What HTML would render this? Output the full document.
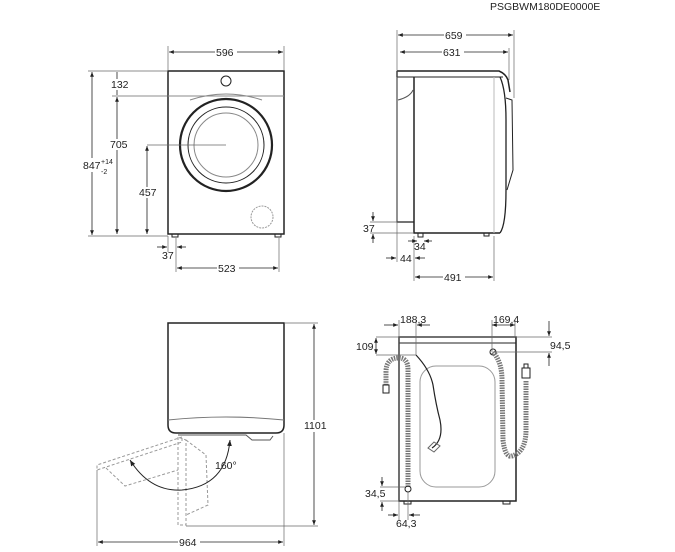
<!DOCTYPE html>
<html><head><meta charset="utf-8"><style>
html,body{margin:0;padding:0;background:#fff;width:675px;height:552px;overflow:hidden}
svg{display:block}
text{font-family:"Liberation Sans",sans-serif;font-size:10.5px;fill:#222}
</style></head><body>
<svg width="675" height="552" viewBox="0 0 675 552" xmlns="http://www.w3.org/2000/svg">
<defs>
<marker id="a" viewBox="0 0 10 10" refX="10" refY="5" markerWidth="6" markerHeight="6" orient="auto-start-reverse"><path d="M0,1 L10,5 L0,9 z" fill="#222"/></marker>
</defs>
<text x="490" y="10">PSGBWM180DE0000E</text>

<!-- FRONT VIEW -->
<g stroke="#222" fill="none">
<rect x="168" y="71" width="116" height="163" stroke-width="1.5"/>
<line x1="168" y1="96" x2="284" y2="96" stroke="#888"/>
<circle cx="226" cy="81" r="5"/>
<path d="M190,100 Q226,88 262,100" stroke="#888"/>
<circle cx="226" cy="145" r="46" stroke-width="2.2"/>
<circle cx="226" cy="145" r="38"/>
<circle cx="226" cy="145" r="32" stroke="#888"/>
<circle cx="262" cy="217" r="11" stroke="#999" stroke-dasharray="2,1"/>
<rect x="172" y="234" width="6" height="3"/><rect x="275" y="234" width="6" height="3"/>
<g stroke="#666" stroke-width="0.7">
<line x1="168" y1="46" x2="168" y2="70"/><line x1="284" y1="46" x2="284" y2="70"/>
<line x1="88" y1="71" x2="168" y2="71"/><line x1="112" y1="96" x2="168" y2="96"/>
<line x1="88" y1="236" x2="168" y2="236"/><line x1="147" y1="145" x2="226" y2="145"/>
<line x1="176" y1="238" x2="176" y2="272"/><line x1="279" y1="238" x2="279" y2="272"/>
<line x1="168" y1="236" x2="168" y2="252"/>
</g>
<g stroke-width="0.8" marker-start="url(#a)" marker-end="url(#a)">
<line x1="169" y1="52" x2="283" y2="52"/>
<line x1="92" y1="72" x2="92" y2="235"/>
<line x1="117" y1="97" x2="117" y2="234"/>
<line x1="147" y1="146" x2="147" y2="234"/>
<line x1="177" y1="268" x2="278" y2="268"/>
</g>
<line x1="117" y1="72" x2="117" y2="95" stroke-width="0.8"/>
<line x1="157" y1="247" x2="167" y2="247" marker-end="url(#a)" stroke-width="0.8"/>
<line x1="186" y1="247" x2="177" y2="247" marker-end="url(#a)" stroke-width="0.8"/>
</g>
<rect x="215" y="46" width="22" height="12" fill="#fff"/><text x="216" y="56">596</text>
<rect x="110" y="79" width="20" height="11" fill="#fff"/><text x="111" y="88">132</text>
<rect x="108" y="139" width="20" height="11" fill="#fff"/><text x="110" y="148">705</text>
<rect x="138" y="187" width="20" height="11" fill="#fff"/><text x="139" y="196">457</text>
<rect x="82" y="158" width="26" height="14" fill="#fff"/><text x="83" y="169">847</text>
<text x="101" y="164" style="font-size:7px">+14</text><text x="101" y="174" style="font-size:7px">-2</text>
<text x="162" y="259">37</text>
<rect x="217" y="262" width="22" height="12" fill="#fff"/><text x="218" y="272">523</text>

<!-- SIDE VIEW -->
<g stroke="#222" fill="none">
<path d="M397,71 L499,71 Q506,74 508,80 L510,92" stroke-width="1.5"/>
<line x1="397" y1="71" x2="397" y2="77" stroke-width="1.5"/>
<line x1="397" y1="77" x2="503" y2="77"/>
<path d="M414,77 L414,233 L500,233" stroke-width="1.5"/>
<path d="M397,77 L397,222 L414,222" stroke-width="1.2"/>
<path d="M398,100 Q410,97 413,90" stroke="#555"/>
<path d="M500,77 Q506,90 506,120 L506,190 Q506,225 500,233" stroke-width="1.3"/>
<path d="M506,98 L512,100 L513,170 L507,190" />
<line x1="494" y1="77" x2="494" y2="233" stroke="#bbb"/>
<rect x="418" y="233" width="5" height="4"/><rect x="484" y="233" width="5" height="3"/>
<g stroke="#666" stroke-width="0.7">
<line x1="397" y1="30" x2="397" y2="262"/><line x1="514" y1="30" x2="514" y2="98"/>
<line x1="509" y1="48" x2="509" y2="80"/>
<line x1="414" y1="236" x2="414" y2="281"/><line x1="494" y1="236" x2="494" y2="281"/>
<line x1="370" y1="222" x2="397" y2="222"/><line x1="370" y1="233" x2="414" y2="233"/>
</g>
<g stroke-width="0.8" marker-start="url(#a)" marker-end="url(#a)">
<line x1="398" y1="35" x2="513" y2="35"/>
<line x1="400" y1="52" x2="508" y2="52"/>
<line x1="415" y1="277" x2="493" y2="277"/>
</g>
<g stroke-width="0.8" marker-end="url(#a)">
<line x1="373" y1="212" x2="373" y2="221"/><line x1="373" y1="243" x2="373" y2="234"/>
<line x1="386" y1="258" x2="396" y2="258"/><line x1="425" y1="258" x2="415" y2="258"/>
<line x1="408" y1="241" x2="417" y2="241"/><line x1="432" y1="241" x2="424" y2="241"/>
</g>
</g>
<rect x="444" y="29" width="22" height="12" fill="#fff"/><text x="445" y="39">659</text>
<rect x="442" y="46" width="22" height="12" fill="#fff"/><text x="443" y="56">631</text>
<text x="363" y="232">37</text>
<text x="414" y="250">34</text>
<text x="400" y="262">44</text>
<rect x="443" y="271" width="22" height="12" fill="#fff"/><text x="444" y="281">491</text>

<!-- TOP VIEW with door -->
<g stroke="#222" fill="none">
<path d="M168,323 L284,323 L284,425 Q284,433 276,433 L176,433 Q168,433 168,425 Z" stroke-width="1.5"/>
<path d="M168,420 Q226,414 284,420" stroke="#777"/>
<path d="M178,435 L246,435 L252,440 L270,440 L273,436" stroke="#555"/>
<g stroke="#999" stroke-dasharray="3,2">
<path d="M182,437 L97,465 L97,470 L182,442 Z"/>
<path d="M106,468 L125,486 L178,470"/>
<path d="M178,437 L178,525 L186,525 L186,440 Z"/>
<path d="M186,440 L206,455 L208,505 L186,515"/>
</g>
<path d="M130,460 Q150,492 182,490 Q226,486 230,440" stroke-width="1" marker-start="url(#a)" marker-end="url(#a)"/>
<g stroke="#666" stroke-width="0.7">
<line x1="284" y1="323" x2="318" y2="323"/><line x1="186" y1="526" x2="318" y2="526"/>
<line x1="97" y1="470" x2="97" y2="546"/><line x1="284" y1="433" x2="284" y2="546"/>
</g>
<g stroke-width="0.8" marker-start="url(#a)" marker-end="url(#a)">
<line x1="314" y1="324" x2="314" y2="525"/>
<line x1="98" y1="542" x2="283" y2="542"/>
</g>
</g>
<rect x="303" y="420" width="24" height="12" fill="#fff"/><text x="304" y="429">1101</text>
<text x="215" y="469">160°</text>
<rect x="178" y="536" width="22" height="12" fill="#fff"/><text x="179" y="546">964</text>

<!-- BACK VIEW -->
<g stroke="#222" fill="none">
<rect x="399" y="337" width="117" height="164" stroke-width="1.5"/>
<line x1="399" y1="343" x2="516" y2="343"/>
<rect x="420" y="366" width="75" height="121" rx="16" stroke="#999"/>
<path d="M416,355 Q430,370 433,385 Q436,405 440,420 Q444,440 432,448" stroke-width="1.2"/>
<path d="M428,448 L434,442 L440,446 L434,452 Z" stroke="#666"/>
<path d="M408,487 L408,370 Q408,358 399,358 Q386,358 386,372 L386,385" stroke="#777" stroke-width="5" stroke-dasharray="1.5,1"/>
<rect x="383" y="385" width="6" height="8"/>
<circle cx="408" cy="489" r="3"/>
<circle cx="493" cy="352" r="3"/>
<path d="M493,352 Q502,362 502,380 L503,440 Q505,458 512,456 Q526,452 526,430 L526,380" stroke="#777" stroke-width="5" stroke-dasharray="1.5,1"/>
<rect x="522" y="368" width="8" height="10"/><rect x="524" y="364" width="4" height="4"/>
<rect x="404" y="501" width="7" height="3"/><rect x="503" y="501" width="7" height="3"/>
<g stroke="#666" stroke-width="0.7">
<line x1="399" y1="320" x2="399" y2="520"/><line x1="416" y1="320" x2="416" y2="355"/>
<line x1="492" y1="320" x2="492" y2="352"/><line x1="515" y1="320" x2="515" y2="337"/>
<line x1="376" y1="337" x2="552" y2="337"/><line x1="376" y1="355" x2="416" y2="355"/>
<line x1="496" y1="352" x2="552" y2="352"/>
<line x1="380" y1="487" x2="405" y2="487"/><line x1="380" y1="501" x2="399" y2="501"/>
<line x1="408" y1="492" x2="408" y2="520"/>
</g>
<line x1="492" y1="325" x2="515" y2="325" stroke-width="0.8" marker-start="url(#a)" marker-end="url(#a)"/>
<line x1="376" y1="338" x2="376" y2="354" stroke-width="0.8" marker-start="url(#a)" marker-end="url(#a)"/>
<g stroke-width="0.8" marker-end="url(#a)">
<line x1="384" y1="325" x2="398" y2="325"/><line x1="430" y1="325" x2="417" y2="325"/>
<line x1="549" y1="321" x2="549" y2="336"/><line x1="549" y1="366" x2="549" y2="353"/>
<line x1="382" y1="477" x2="382" y2="486"/><line x1="382" y1="511" x2="382" y2="502"/>
<line x1="388" y1="515" x2="398" y2="515"/><line x1="420" y1="515" x2="409" y2="515"/>
</g>
</g>
<text x="400" y="323">188,3</text>
<text x="493" y="323">169,4</text>
<text x="550" y="349">94,5</text>
<text x="356" y="350">109</text>
<text x="365" y="497">34,5</text>
<text x="396" y="527">64,3</text>
</svg>
</body></html>
